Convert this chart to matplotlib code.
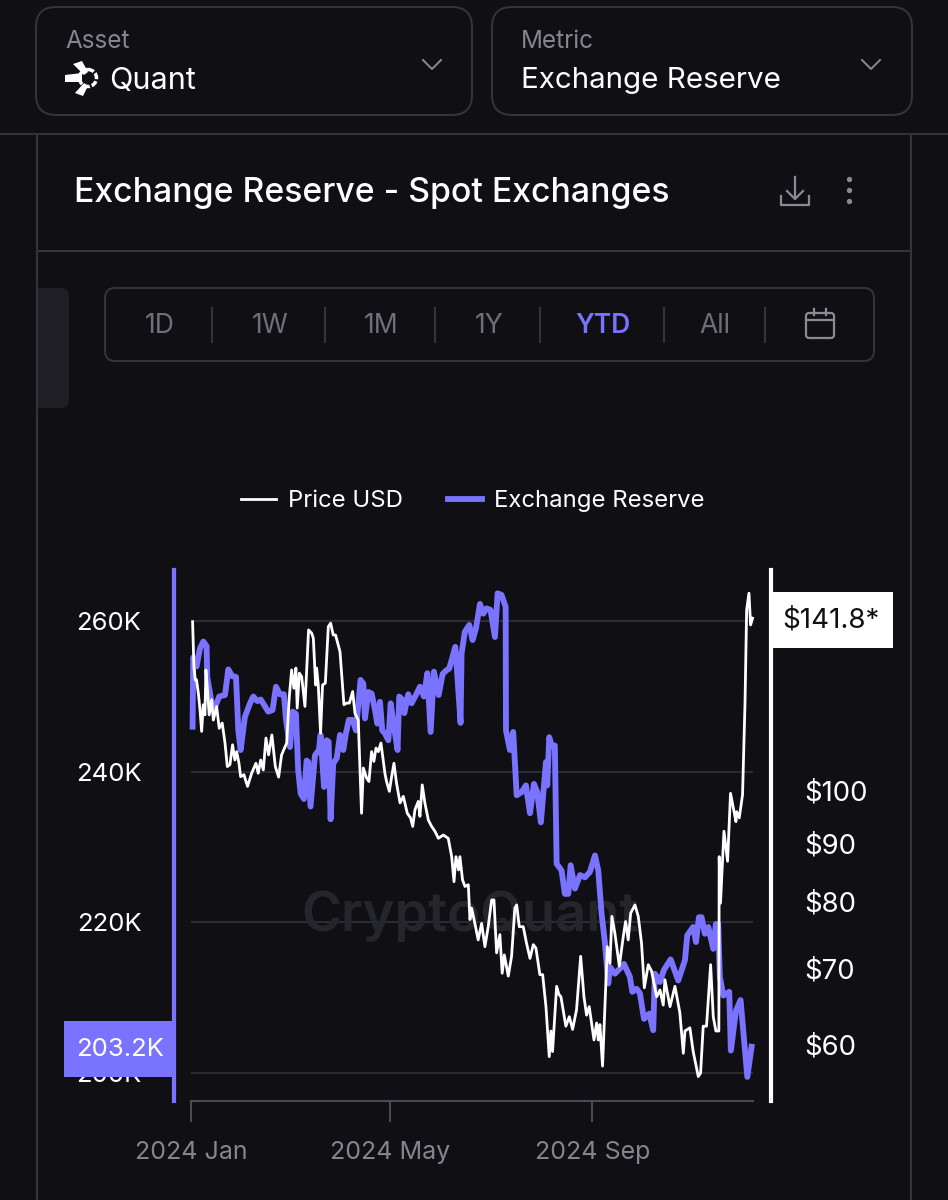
import matplotlib
matplotlib.use("Agg")
import matplotlib.pyplot as plt
from matplotlib.patches import FancyBboxPatch, Polygon, Rectangle, Circle

plt.rcParams['font.family'] = ['Inter', 'DejaVu Sans']

reserve_days = [1.0,1.4,3.4,5.5,7.5,9.5,9.9,12.6,14.6,17.2,20.7,22.7,25.1,27.4,28.8,30.2,32.8,35.9,37.9,40.3,42.4,47.0,49.6,51.7,54.1,56.5,57.8,60.2,61.8,63.8,65.2,66.7,68.7,70.3,71.3,72.7,75.4,77.8,78.8,80.9,82.5,83.7,84.9,86.5,88.6,90.6,92.6,94.2,96.0,98.3,100.3,103.1,104.8,105.8,107.8,109.8,111.9,113.3,114.9,116.3,117.9,120.0,121.4,123.4,125.6,126.6,128.1,129.7,132.1,134.1,137.2,139.2,141.6,143.7,145.7,147.7,150.6,153.0,155.4,157.0,160.7,163.9,164.5,166.5,169.2,171.2,173.2,175.7,177.7,179.7,182.1,184.8,186.4,188.8,191.3,191.5,193.9,195.9,198.0,201.0,203.6,206.1,208.5,210.5,212.7,215.8,216.6,217.8,219.2,221.2,222.3,225.3,227.3,229.4,230.8,233.4,236.5,239.5,242.5,245.6,247.6,249.6,251.6,253.7,254.7,257.7,260.8,263.2,266.8,268.3,270.9,272.9,275.4,278.6,281.0,282.0,285.1,287.5,291.6,296.2,300.3,301.7,305.3,307.0,308.8,310.4,312.4,314.5,317.5,319.1,320.5,321.5,323.6,327.2,328.2,331.3,334.1,338.2,340.8]
reserve_k = [246.0,255.2,254.0,256.4,257.3,256.7,252.6,249.1,248.6,250.0,250.2,253.6,252.7,252.6,245.5,242.9,247.3,249.1,250.0,249.4,249.6,248.0,248.2,251.3,250.3,250.3,246.9,243.3,248.0,247.7,240.2,237.1,236.4,241.5,241.3,235.4,242.2,242.9,244.9,238.0,244.2,244.0,233.7,241.1,241.8,244.9,242.9,245.1,246.9,246.9,245.5,252.2,251.7,247.1,250.6,250.4,248.2,246.4,249.3,245.5,245.1,244.2,249.1,246.0,242.9,250.0,249.7,247.8,250.3,249.1,250.4,251.3,250.0,253.1,245.3,253.3,250.2,253.0,253.5,253.7,256.6,246.5,255.7,258.6,259.5,257.5,259.0,262.3,261.0,261.7,261.5,257.9,263.7,263.5,261.9,245.5,242.9,245.3,236.9,237.3,238.2,234.5,238.4,237.3,233.3,241.3,238.2,244.6,243.5,243.5,227.8,226.9,223.8,223.8,227.6,224.5,226.3,226.0,226.7,228.9,226.9,221.2,217.4,211.9,214.1,213.2,213.9,214.5,212.8,210.8,211.2,210.6,207.2,207.9,205.7,213.2,212.1,213.7,215.1,212.3,215.0,218.3,219.4,217.4,220.7,220.7,218.5,219.4,216.5,219.8,219.8,212.8,210.3,210.8,203.0,208.3,209.7,199.5,203.5]

price_days = [1.0,1.8,2.6,3.4,4.5,5.5,6.5,7.5,8.5,9.1,9.9,11.1,12.6,13.6,15.6,17.2,19.0,20.7,22.1,23.7,25.3,26.7,27.8,29.2,30.2,32.2,34.4,36.9,39.5,40.9,42.4,44.0,45.6,47.2,49.2,51.3,53.3,55.1,58.2,59.8,61.2,62.6,63.8,64.6,65.9,67.3,69.3,71.5,73.4,74.4,75.8,76.4,77.4,78.8,80.0,81.7,83.5,84.9,86.5,87.9,90.6,93.0,94.6,96.3,98.3,99.7,101.7,103.7,104.8,106.8,108.2,109.8,111.2,112.5,113.9,115.5,117.9,118.9,120.6,122.0,123.4,125.0,127.1,129.1,131.5,133.5,134.8,136.2,138.2,139.2,140.6,142.2,144.3,146.3,148.3,150.4,153.4,156.4,158.5,159.9,161.1,162.7,163.5,165.1,166.6,168.6,169.6,170.6,172.6,174.6,176.7,178.7,180.7,182.8,184.2,185.8,187.8,189.2,190.5,192.9,194.9,196.9,198.0,199.6,202.0,204.0,206.1,208.1,209.7,212.1,213.8,215.8,217.8,218.8,219.8,222.3,223.7,224.9,227.9,230.0,232.0,234.4,236.9,238.9,240.5,242.1,245.0,246.6,247.6,248.6,250.2,252.1,253.1,254.7,255.9,257.7,260.4,262.8,264.2,265.8,267.3,269.9,271.9,273.9,275.6,278.0,280.0,283.1,285.1,287.1,288.1,291.2,294.2,297.2,299.3,300.3,303.3,305.3,308.4,309.8,311.4,313.4,315.9,317.5,319.1,320.9,321.1,321.9,324.0,326.2,328.0,331.3,331.7,333.3,335.3,336.8,337.8,339.2,340.2,341.4]
price_usd = [140.5,128.4,125.0,125.0,121.7,117.7,112.7,118.9,116.5,127.5,123.3,116.5,120.1,115.3,118.5,113.4,114.6,110.1,105.0,105.4,109.7,106.4,108.2,105.7,102.9,103.3,100.9,103.6,105.7,103.6,106.4,104.3,111.2,107.5,111.9,105.0,102.8,107.5,110.1,120.9,127.5,122.9,128.0,118.1,126.7,125.8,118.5,138.2,137.3,135.9,123.7,128.0,123.7,112.3,123.7,124.2,139.1,140.1,136.8,136.8,132.3,118.9,119.3,119.3,122.1,116.9,115.3,95.6,104.7,102.6,101.9,108.2,106.1,109.0,108.2,110.1,103.6,101.9,99.9,102.9,105.7,101.5,97.6,98.9,95.6,94.7,93.1,96.3,97.9,95.0,101.2,97.6,94.3,93.1,92.2,90.9,91.5,90.9,87.6,83.3,87.6,85.3,87.6,83.6,82.5,82.8,77.2,79.0,76.6,74.1,76.6,73.1,76.1,80.3,80.3,72.2,74.9,69.3,71.9,68.9,71.7,79.0,79.5,76.1,76.1,73.6,71.4,73.4,72.9,69.1,69.1,64.8,58.6,61.7,59.2,67.5,66.4,66.1,62.3,63.5,61.9,64.4,71.7,66.1,63.7,64.8,60.6,62.7,60.6,62.5,57.5,67.5,73.1,70.7,77.7,75.1,70.3,74.6,76.9,74.1,78.2,79.5,77.7,73.6,67.3,70.5,69.6,66.1,67.0,65.0,68.4,64.8,67.5,64.0,59.0,61.7,62.1,59.2,56.3,56.7,62.3,62.3,70.5,63.5,61.7,61.7,87.6,79.8,92.2,86.8,99.5,94.0,95.9,94.7,99.2,119.3,143.9,148.8,139.6,141.5]

reserve_ticks = [200, 220, 240, 260]
reserve_tick_labels = ['200K', '220K', '240K', '260K']
price_ticks = [60, 70, 80, 90, 100]
price_tick_labels = ['$60', '$70', '$80', '$90', '$100']
date_ticks = [0, 121, 244]
date_tick_labels = ['2024 Jan', '2024 May', '2024 Sep']
range_buttons = ['1D', '1W', '1M', '1Y', 'YTD', 'All']

BG = '#101014'
PURPLE = '#7A73FF'
LINE = '#33333c'
GREY = '#85858f'
W, H = 948, 1200

fig = plt.figure(figsize=(W / 100, H / 100), dpi=100, facecolor=BG)

# page chrome, in pixels
ui = fig.add_axes([0, 0, 1, 1], zorder=0)
ui.set_xlim(0, W); ui.set_ylim(H, 0); ui.axis('off')

def box(x0, y0, x1, y1, r, fc='none', ec=LINE, lw=1.5, axis=ui, z=1):
    axis.add_patch(FancyBboxPatch((x0, y0), x1 - x0, y1 - y0,
                                  boxstyle=f'round,pad=0,rounding_size={r}',
                                  fc=fc, ec=ec, lw=lw, zorder=z))

box(36, 7, 472, 115, 20)
box(492, 7, 912, 115, 20)
ui.plot([0, W], [134, 134], color=LINE, lw=1.5)
ui.plot([37, 37], [134, H], color=LINE, lw=1.5)
ui.plot([911, 911], [134, H], color=LINE, lw=1.5)
ui.plot([37, 911], [251, 251], color=LINE, lw=1.5)
box(20, 288, 69, 408, 8, fc='#1f1f25', ec='none')
ui.add_patch(Rectangle((0, 280), 37, 136, fc=BG, ec='none', zorder=2))
ui.plot([37, 37], [280, 416], color=LINE, lw=1.5, zorder=3)
box(105, 288, 874, 361, 10)

ui.text(65, 41, 'Asset', color=GREY, fontsize=17.5, va='center')
ui.text(109, 81, 'Quant', color='white', fontsize=22, va='center')
ui.text(521, 41, 'Metric', color=GREY, fontsize=17.5, va='center')
ui.text(521, 81, 'Exchange Reserve', color='white', fontsize=21.3, va='center')
ui.text(74, 193, 'Exchange Reserve - Spot Exchanges', color='white', fontsize=24.3,
        va='center', fontweight='medium')

for cx in (432, 871):
    ui.plot([cx - 9, cx, cx + 9], [60, 69, 60], color='#8a8a94', lw=1.4)

# Quant glyph
for pts in ([(65, 75), (82, 73), (82, 82), (65, 82)],
            [(73, 64), (82, 61), (88, 72), (84, 75)],
            [(75, 93), (83, 96), (88, 86), (84, 83)]):
    ui.add_patch(Polygon(pts, closed=True, fc='white', ec='none', zorder=3))
ui.add_patch(Circle((88, 78), 8.5, fc='none', ec='white', lw=2.5, ls=(0, (1.8, 0.6)), zorder=3))

# download icon and menu dots
ui.plot([781, 781, 809, 809], [196, 205, 205, 196], color='#8a8a94', lw=1.6)
ui.plot([795, 795], [177, 198], color='#8a8a94', lw=1.6)
ui.plot([787, 795, 803], [191, 199, 191], color='#8a8a94', lw=1.6)
ui.plot([849, 849, 849], [179, 190, 201], 'o', color='#8a8a94', ms=2.8)

# range selector
for label, cx in zip(range_buttons, (160, 270, 381, 489, 603, 715)):
    active = label == 'YTD'
    ui.text(cx, 326, label, ha='center', va='center', fontsize=19,
            color=PURPLE if active else '#6f6f79', fontweight='semibold' if active else 'normal')
for sx in (212, 325, 435, 540, 664, 765):
    ui.plot([sx, sx], [308, 342], color=LINE, lw=1.5)
box(806, 313, 834, 338, 3, ec='#8a8a94', lw=1.6)
ui.plot([806, 834], [320, 320], color='#8a8a94', lw=1.6)
ui.plot([814, 814], [309, 315], color='#8a8a94', lw=1.6)
ui.plot([826, 826], [309, 315], color='#8a8a94', lw=1.6)

# chart: left edge 174 px, right edge 771 px, top 570 px, bottom 1101 px
left, right, top, bottom = 174, 771, 570, 1101
pos = [left / W, 1 - bottom / H, (right - left) / W, (bottom - top) / H]
ax = fig.add_axes(pos, zorder=1)
ax.patch.set_alpha(0)
ax.set_xlim(-10.3, 352.6)
ax.set_ylim(196.3, 266.8)
ax.hlines(reserve_ticks, 0, 341.5, color='#2b2b33', lw=1.5, zorder=1)
ax.text(470 / W, 1 - 916 / H, 'CryptoQuant', transform=fig.transFigure, ha='center', va='center',
        color='#25252c', fontsize=39, fontweight='semibold', zorder=1.5)
line_res, = ax.plot(reserve_days, reserve_k, color=PURPLE, lw=4.2, zorder=2,
                    solid_joinstyle='round', label='Exchange Reserve')
ax.set_yticks(reserve_ticks, reserve_tick_labels)
ax.set_xticks(date_ticks, date_tick_labels)
ax.tick_params(axis='y', length=0, pad=23.5, labelcolor='white', labelsize=18.5)
ax.tick_params(axis='x', length=15, width=1.5, color='#4a4a55', pad=14, labelcolor=GREY, labelsize=18)
for s in ('top', 'right'):
    ax.spines[s].set_visible(False)
ax.spines['left'].set_color(PURPLE); ax.spines['left'].set_linewidth(3)
ax.spines['bottom'].set_color('#4a4a55'); ax.spines['bottom'].set_linewidth(1.5)
ax.spines['bottom'].set_bounds(0, 341.5)

pr = ax.twinx()
pr.set_zorder(2)
pr.patch.set_alpha(0)
pr.set_yscale('log')
pr.set_ylim(53.6, 155.9)
line_pr, = pr.plot(price_days, price_usd, color='white', lw=2.0, zorder=3,
                   solid_joinstyle='round', label='Price USD')
pr.set_yticks(price_ticks, price_tick_labels)
pr.minorticks_off()
pr.tick_params(axis='y', which='both', length=0, pad=24, labelcolor='white', labelsize=19.8)
for s in ('top', 'left', 'bottom'):
    pr.spines[s].set_visible(False)
pr.spines['right'].set_color('white'); pr.spines['right'].set_linewidth(3)

fig.legend(handles=[line_pr, line_res], loc='center', bbox_to_anchor=(473 / W, 1 - 501 / H), ncols=2,
           frameon=False, fontsize=17.2, labelcolor='white', handlelength=1.44,
           handletextpad=0.5, columnspacing=1.9)

# value tags on top of the axis labels
tags = fig.add_axes([0, 0, 1, 1], zorder=5)
tags.set_xlim(0, W); tags.set_ylim(H, 0); tags.axis('off')
tags.add_patch(Rectangle((64, 1021), 110, 56, fc=PURPLE, ec='none'))
tags.text(120, 1050, '203.2K', color='white', fontsize=18.5, ha='center', va='center')
tags.add_patch(Rectangle((773, 592), 120, 56, fc='white', ec='none'))
tags.text(831, 621, '$141.8*', color='#101014', fontsize=20, ha='center', va='center')

fig.savefig('out.png', dpi=100, facecolor=BG)
